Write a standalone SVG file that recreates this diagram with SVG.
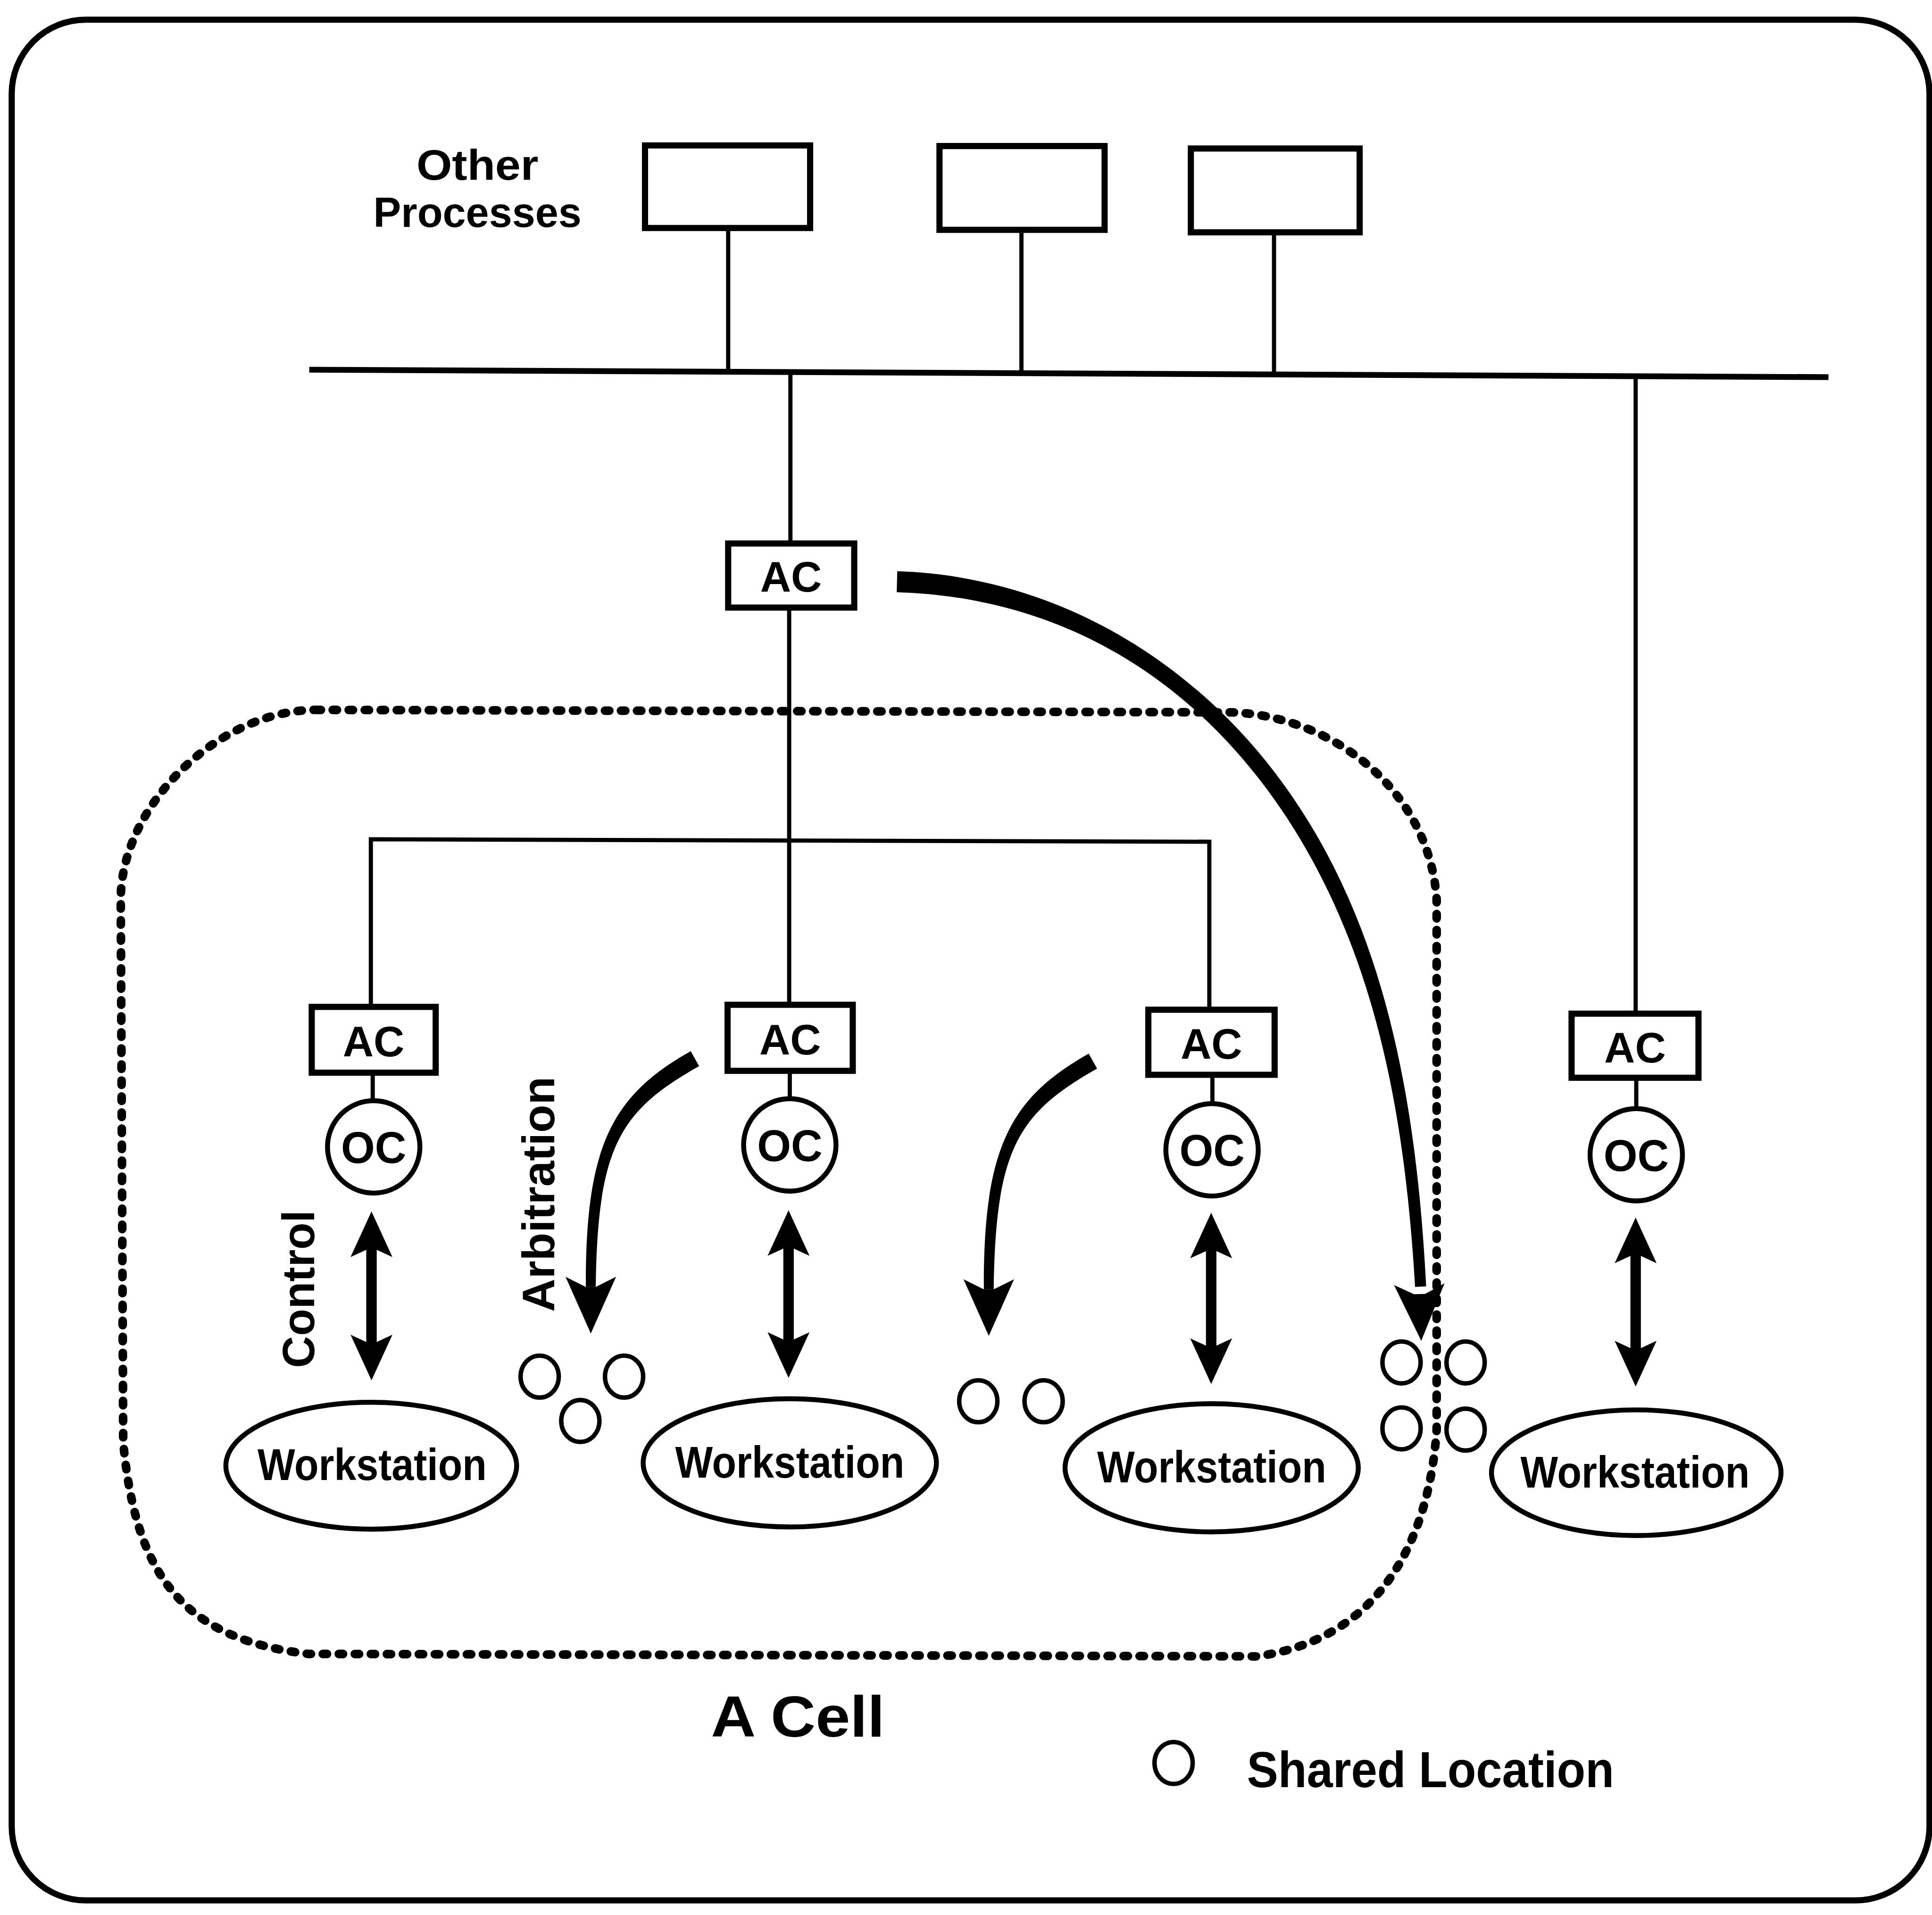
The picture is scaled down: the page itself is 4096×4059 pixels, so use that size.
<svg xmlns="http://www.w3.org/2000/svg" xmlns:xlink="http://www.w3.org/1999/xlink" width="4096" height="4059" viewBox="0 0 4096 4059">
  <style>
    .frame { fill: none; stroke: #000; stroke-width: 5; }
    .ln { fill: none; stroke: #000; stroke-width: 3.4; }
    .bus { fill: none; stroke: #000; stroke-width: 4.7; }
    .box { fill: #fff; stroke: #000; stroke-width: 5; }
    .oc { fill: #fff; stroke: #000; stroke-width: 4; }
    .ws { fill: #fff; stroke: #000; stroke-width: 4; }
    .loc { fill: none; stroke: #000; stroke-width: 3.6; }
    .cell { fill: none; stroke: #000; stroke-width: 7; stroke-dasharray: 3.5 9.5; stroke-linecap: round; }
    .shaft { fill: none; stroke: #000; stroke-width: 8.5; }
    .solid { fill: #000; stroke: none; }
    text { font-family: "Liberation Sans", Arial, sans-serif; font-weight: bold; fill: #000; }
    .lbl { font-size: 36px; text-anchor: middle; }
    .tag { font-size: 35px; text-anchor: middle; }
  </style>
  <defs>
    <!-- arrowheads, tip at the origin, pointing up -->
    <path id="head-s" d="M0,0 L-17,37 L-4,31 L4,31 L17,37 Z"/>
    <path id="head-l" d="M0,0 L-20.5,46 L-4.5,38 L4.5,38 L20.5,46 Z"/>
  </defs>
  <rect width="4096" height="4059" fill="#fff"/>
  <g transform="scale(2.6122)">
    <!-- outer frame -->
    <rect class="frame" x="9.5" y="16" width="1556.5" height="1526" rx="60" ry="60"/>

    <!-- cell boundary -->
    <path id="cell-boundary" class="cell" d="M257,576 L1000,578 C1080,581 1160,640 1166,730 L1166,1160 C1160,1250 1120,1330 1020,1344 L250,1342 C150,1330 110,1280 100,1170 L98,730 C98,653.5 177.5,576 257,576 Z"/>

    <!-- connectors -->
    <g id="connectors">
      <line class="ln" x1="591" y1="187" x2="591" y2="300"/>
      <line class="ln" x1="829" y1="189" x2="829" y2="301"/>
      <line class="ln" x1="1034" y1="191" x2="1034" y2="302"/>
      <line class="bus" x1="251" y1="300" x2="1484" y2="306"/>
      <line class="ln" x1="641.5" y1="302" x2="641.5" y2="440"/>
      <line class="ln" x1="640.5" y1="494" x2="640.5" y2="814"/>
      <path class="ln" d="M301,816 V681 L981.5,683 V818"/>
      <line class="ln" x1="1327.5" y1="305" x2="1327.5" y2="821"/>
      <line class="ln" x1="302.5" y1="871" x2="302.5" y2="893"/>
      <line class="ln" x1="641" y1="870" x2="641" y2="892"/>
      <line class="ln" x1="984" y1="873" x2="984" y2="896"/>
      <line class="ln" x1="1328" y1="876" x2="1328" y2="900"/>

      <!-- control links OC <-> workstation -->
      <g id="ctl-1">
        <line class="shaft" x1="301.5" y1="1010" x2="301.5" y2="1093"/>
        <use xlink:href="#head-s" class="solid" transform="translate(301.5,983)"/>
        <use xlink:href="#head-s" class="solid" transform="translate(301.5,1120) rotate(180)"/>
      </g>
      <g id="ctl-2">
        <line class="shaft" x1="640" y1="1009" x2="640" y2="1091"/>
        <use xlink:href="#head-s" class="solid" transform="translate(640,982)"/>
        <use xlink:href="#head-s" class="solid" transform="translate(640,1118) rotate(180)"/>
      </g>
      <g id="ctl-3">
        <line class="shaft" x1="983" y1="1011" x2="983" y2="1096"/>
        <use xlink:href="#head-s" class="solid" transform="translate(983,984)"/>
        <use xlink:href="#head-s" class="solid" transform="translate(983,1123) rotate(180)"/>
      </g>
      <g id="ctl-4">
        <line class="shaft" x1="1327.5" y1="1015" x2="1327.5" y2="1098"/>
        <use xlink:href="#head-s" class="solid" transform="translate(1327.5,988)"/>
        <use xlink:href="#head-s" class="solid" transform="translate(1327.5,1125) rotate(180)"/>
      </g>

      <!-- arbitration arrows -->
      <g id="arb-1">
        <path class="solid" d="M560.6,852.9 C496.6,888.9 475,930 475.5,1044 L483.5,1044 C485,930 503.4,901.1 567.4,865.1 Z"/>
        <use xlink:href="#head-l" class="solid" transform="translate(479.5,1082) rotate(180)"/>
      </g>
      <g id="arb-2" transform="translate(323,2)">
        <path class="solid" d="M560.6,852.9 C496.6,888.9 475,930 475.5,1044 L483.5,1044 C485,930 503.4,901.1 567.4,865.1 Z"/>
        <use xlink:href="#head-l" class="solid" transform="translate(479.5,1082) rotate(180)"/>
      </g>

      <!-- arbitration from the cell controller to the shared locations -->
      <g id="arb-cell">
        <path class="solid" d="M728.2,463.5 C860.2,467.5 980.9,541 1055.5,656.4 C1126.5,765.4 1150,899.7 1157.5,1043.8 L1148.5,1044.2 C1140,900.3 1115.5,772.6 1044.5,663.6 C969.1,549 859.8,484.5 727.8,480.5 Z"/>
        <use xlink:href="#head-l" class="solid" transform="translate(1153.5,1088) rotate(178)"/>
      </g>
    </g>

    <!-- other processes -->
    <g id="other-processes">
      <text x="387.5" y="146" font-size="35" text-anchor="middle" textLength="99" lengthAdjust="spacingAndGlyphs">Other</text>
      <text x="387.5" y="184" font-size="34" text-anchor="middle" textLength="169" lengthAdjust="spacingAndGlyphs">Processes</text>
    </g>
    <g id="proc-1"><rect class="box" x="523.5" y="118" width="134" height="67"/></g>
    <g id="proc-2"><rect class="box" x="762.5" y="118.5" width="134" height="68"/></g>
    <g id="proc-3"><rect class="box" x="966.5" y="120.5" width="137" height="68"/></g>

    <!-- area controllers -->
    <g id="ac-top">
      <rect class="box" x="591" y="441" width="102.3" height="52"/>
      <text class="tag" x="642" y="480" textLength="50" lengthAdjust="spacingAndGlyphs">AC</text>
    </g>
    <g id="ac-1">
      <rect class="box" x="253" y="817" width="100.6" height="53.4"/>
      <text class="tag" x="303.2" y="857" textLength="50" lengthAdjust="spacingAndGlyphs">AC</text>
    </g>
    <g id="ac-2">
      <rect class="box" x="590.5" y="815.3" width="101.6" height="53.6"/>
      <text class="tag" x="641.3" y="855.5" textLength="50" lengthAdjust="spacingAndGlyphs">AC</text>
    </g>
    <g id="ac-3">
      <rect class="box" x="932" y="819.3" width="102.5" height="52.8"/>
      <text class="tag" x="983.2" y="859" textLength="50" lengthAdjust="spacingAndGlyphs">AC</text>
    </g>
    <g id="ac-4">
      <rect class="box" x="1275.5" y="822.5" width="103" height="52"/>
      <text class="tag" x="1327" y="862" textLength="50" lengthAdjust="spacingAndGlyphs">AC</text>
    </g>

    <!-- operation controllers -->
    <g id="oc-1">
      <ellipse class="oc" cx="303.3" cy="930.6" rx="37.5" ry="37.5"/>
      <text class="lbl" x="303.3" y="943.5" textLength="53" lengthAdjust="spacingAndGlyphs">OC</text>
    </g>
    <g id="oc-2">
      <ellipse class="oc" cx="641" cy="929" rx="37.5" ry="37.5"/>
      <text class="lbl" x="641" y="942" textLength="53" lengthAdjust="spacingAndGlyphs">OC</text>
    </g>
    <g id="oc-3">
      <ellipse class="oc" cx="983.7" cy="933" rx="37.5" ry="37.5"/>
      <text class="lbl" x="983.7" y="946" textLength="53" lengthAdjust="spacingAndGlyphs">OC</text>
    </g>
    <g id="oc-4">
      <ellipse class="oc" cx="1328" cy="937" rx="37.5" ry="37.5"/>
      <text class="lbl" x="1328" y="950" textLength="53" lengthAdjust="spacingAndGlyphs">OC</text>
    </g>

    <!-- workstations -->
    <g id="ws-1">
      <ellipse class="ws" cx="301.3" cy="1189.3" rx="118" ry="51.5"/>
      <text class="lbl" x="302" y="1201" textLength="186" lengthAdjust="spacingAndGlyphs">Workstation</text>
    </g>
    <g id="ws-2">
      <ellipse class="ws" cx="641" cy="1187" rx="119" ry="52"/>
      <text class="lbl" x="641" y="1199" textLength="186" lengthAdjust="spacingAndGlyphs">Workstation</text>
    </g>
    <g id="ws-3">
      <ellipse class="ws" cx="983.4" cy="1191" rx="119" ry="52"/>
      <text class="lbl" x="983.4" y="1203" textLength="186" lengthAdjust="spacingAndGlyphs">Workstation</text>
    </g>
    <g id="ws-4">
      <ellipse class="ws" cx="1328" cy="1195" rx="117.5" ry="51"/>
      <text class="lbl" x="1327" y="1207" textLength="186" lengthAdjust="spacingAndGlyphs">Workstation</text>
    </g>

    <!-- shared locations -->
    <g id="shared-locations">
      <ellipse class="loc" cx="438" cy="1117" rx="15.5" ry="17"/>
      <ellipse class="loc" cx="506.5" cy="1117" rx="15.5" ry="17"/>
      <ellipse class="loc" cx="471" cy="1153" rx="15.5" ry="17"/>
      <ellipse class="loc" cx="794" cy="1137" rx="15.5" ry="17"/>
      <ellipse class="loc" cx="847" cy="1137" rx="15.5" ry="17"/>
      <ellipse class="loc" cx="1137.5" cy="1105.5" rx="15.5" ry="17"/>
      <ellipse class="loc" cx="1189.5" cy="1105.5" rx="15.5" ry="17"/>
      <ellipse class="loc" cx="1137.5" cy="1159" rx="15.5" ry="17"/>
      <ellipse class="loc" cx="1189.5" cy="1160" rx="15.5" ry="17"/>
    </g>

    <!-- side labels -->
    <text font-size="37" text-anchor="middle" textLength="128" lengthAdjust="spacingAndGlyphs" transform="translate(255,1046) rotate(-90)">Control</text>
    <text font-size="37" text-anchor="middle" textLength="191" lengthAdjust="spacingAndGlyphs" transform="translate(450,969) rotate(-90)">Arbitration</text>

    <!-- captions and legend -->
    <text x="577" y="1409" font-size="47" textLength="141" lengthAdjust="spacingAndGlyphs">A Cell</text>
    <g id="legend">
      <ellipse class="loc" cx="952.5" cy="1430.5" rx="15.5" ry="17"/>
      <text x="1012" y="1450" font-size="41" textLength="298" lengthAdjust="spacingAndGlyphs">Shared Location</text>
    </g>
  </g>
</svg>
